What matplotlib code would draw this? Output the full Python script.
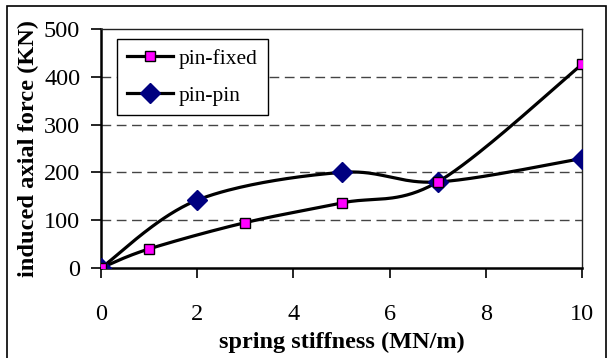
import numpy as np
import matplotlib
matplotlib.use("Agg")
import matplotlib.pyplot as plt
from matplotlib.patches import Rectangle
from matplotlib.lines import Line2D

# spring stiffness (MN/m) and induced axial force (KN)
stiff_fixed = [0, 1, 3, 5, 7, 10]
force_fixed = [0, 40, 95, 136, 180, 426]
stiff_pin = [0, 2, 5, 7, 10]
force_pin = [0, 142, 200, 180, 229]

x_ticks = [0, 2, 4, 6, 8, 10]
y_ticks = [0, 100, 200, 300, 400, 500]


def smooth(xs, ys, n=40):
    """Catmull-Rom style cubic Bezier through the points (spreadsheet smoothing)."""
    p = np.column_stack([xs, ys]).astype(float)
    m = len(p)
    out = [p[0]]
    for i in range(m - 1):
        prev = p[i - 1] if i > 0 else p[i]
        nxt = p[i + 2] if i + 2 < m else p[i + 1]
        p0, p3 = p[i], p[i + 1]
        p1 = p0 + (p3 - prev) / 6.0
        p2 = p3 - (nxt - p0) / 6.0
        t = np.linspace(0, 1, n)[1:, None]
        seg = ((1 - t) ** 3) * p0 + 3 * ((1 - t) ** 2) * t * p1 \
            + 3 * (1 - t) * t ** 2 * p2 + t ** 3 * p3
        out.extend(seg)
    out = np.array(out)
    return out[:, 0], out[:, 1]


plt.rcParams['font.family'] = ['Liberation Serif', 'DejaVu Serif']

W, H = 607, 358
fig = plt.figure(figsize=(W / 100, H / 100), dpi=100)
ax = fig.add_axes([101 / W, 1 - 268 / H, (582 - 101) / W, (268 - 29) / H])

# chart border
fig.patches.append(Rectangle((7 / W, -0.05), (605.5 - 7) / W, 1 - 6 / H + 0.05,
                             transform=fig.transFigure, fill=False,
                             edgecolor='black', linewidth=1.2))

for y in y_ticks[1:-1]:
    ax.axhline(y, color='#444444', linewidth=1.0, linestyle=(0, (7, 4)), zorder=1)

lw = 2.3
fx, fy = smooth(stiff_fixed, force_fixed)
px, py = smooth(stiff_pin, force_pin)
ax.plot(fx, fy, color='black', linewidth=lw, zorder=3)
ax.plot(px, py, color='black', linewidth=lw, zorder=3)
ax.plot(stiff_fixed, force_fixed, linestyle='none', marker='s', markersize=6.5,
        markerfacecolor='#FF00FF', markeredgecolor='black', markeredgewidth=1.0, zorder=5)
ax.plot(stiff_pin, force_pin, linestyle='none', marker='D', markersize=10.5,
        markerfacecolor='#000080', markeredgecolor='#000080', zorder=4)

ax.set_xlim(0, 10)
ax.set_ylim(0, 500)
ax.set_xticks(x_ticks)
ax.set_yticks(y_ticks)
ax.tick_params(axis='x', direction='out', length=7, width=1.2, pad=19, labelsize=17.5)
ax.tick_params(axis='y', direction='out', length=7, width=1.2, pad=8, labelsize=17.5)
for s in ['left', 'bottom']:
    ax.spines[s].set_linewidth(1.8)
for s in ['top', 'right']:
    ax.spines[s].set_linewidth(1.0)
    ax.spines[s].set_color('#222222')

ax.set_xlabel('spring stiffness (MN/m)', fontsize=17.5, fontweight='bold')
ax.set_ylabel('induced axial force (KN)', fontsize=17.6, fontweight='bold')
ax.xaxis.set_label_coords(0.5, -0.265)
ax.yaxis.set_label_coords(-0.128, 0.5)

handles = [
    Line2D([], [], color='black', linewidth=lw, marker='s', markersize=6.5,
           markerfacecolor='#FF00FF', markeredgecolor='black'),
    Line2D([], [], color='black', linewidth=lw, marker='D', markersize=10.5,
           markerfacecolor='#000080', markeredgecolor='#000080'),
]
leg = ax.legend(handles, ['pin-fixed', 'pin-pin'], loc='upper left',
                bbox_to_anchor=(16 / 481, 1 - 10 / 239), fontsize=15.5,
                borderaxespad=0, fancybox=False, framealpha=1, edgecolor='black',
                handlelength=2.15, borderpad=0.45, labelspacing=0.78, handletextpad=0.28)
leg.get_frame().set_linewidth(1.0)

fig.savefig('out.png', dpi=100)
